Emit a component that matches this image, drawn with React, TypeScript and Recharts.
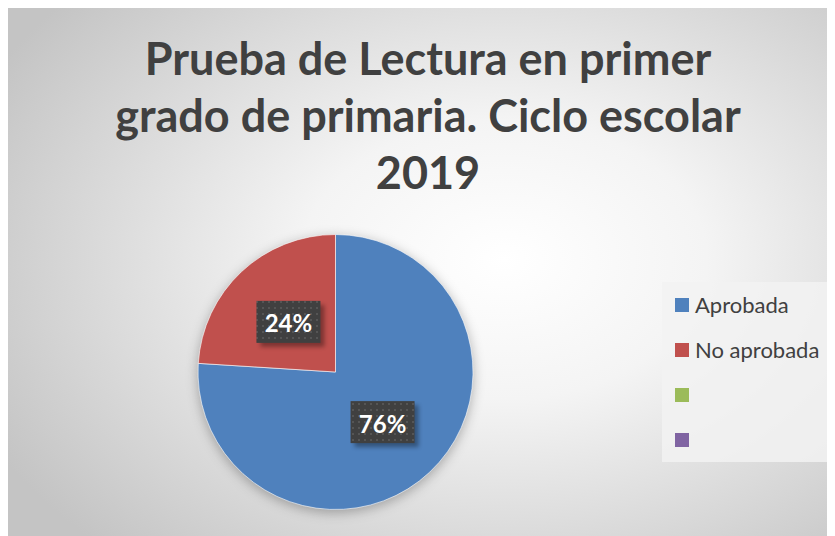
import { PieChart, Pie, Cell, Legend } from "recharts"

const categories = ["Aprobada", "No aprobada", "", ""]
const values = [76, 24, 0, 0]
const colors = ["#4f81bd", "#c0504d", "#9bbb59", "#8064a2"]
const titleLines = [
  "Prueba de Lectura en primer",
  "grado de primaria. Ciclo escolar",
  "2019",
]

const data = categories.map((name, i) => ({ name, value: values[i], color: colors[i] }))
const pieData = data.filter((d) => d.value > 0)

const RAD = Math.PI / 180

function renderLabel(props: any) {
  const { cx, cy, midAngle, outerRadius, percent, index } = props
  const r = outerRadius * 0.5
  const x = cx + r * Math.cos(-midAngle * RAD)
  const y = cy + r * Math.sin(-midAngle * RAD)
  const w = 64
  const h = 42
  return (
    <g key={`lbl-${index}`}>
      <rect x={x - w / 2 + 4} y={y - h / 2 + 4} width={w} height={h} fill="#000" opacity={0.35} filter="url(#lblBlur)" />
      <rect x={x - w / 2} y={y - h / 2} width={w} height={h} fill="url(#dots)" />
      <text
        x={x}
        y={y + 1}
        textAnchor="middle"
        dominantBaseline="central"
        fill="#fff"
        fontFamily="Lato, sans-serif"
        fontWeight={700}
        fontSize={24}
      >
        {`${Math.round(percent * 100)}%`}
      </text>
    </g>
  )
}

function LegendBox() {
  return (
    <div
      style={{
        width: 170,
        height: 180,
        background: "rgba(242,242,242,0.85)",
        boxSizing: "border-box",
        paddingTop: 0,
      }}
    >
      {data.map((d) => (
        <div
          key={d.color}
          style={{ display: "flex", alignItems: "center", height: 45, paddingLeft: 13 }}
        >
          <span style={{ width: 14, height: 14, background: d.color, display: "inline-block" }} />
          <span
            style={{
              marginLeft: 6,
              fontFamily: "Lato, sans-serif",
              fontSize: 22,
              color: "#404040",
              whiteSpace: "nowrap",
            }}
          >
            {d.name}
          </span>
        </div>
      ))}
    </div>
  )
}

export default function App() {
  return (
    <div
      style={{
        position: "relative",
        width: 827,
        height: 531,
        marginTop: -3,
        background:
          "radial-gradient(ellipse 70% 75% at 60% 48%, #ffffff 0%, #f4f4f4 35%, #c4c4c4 100%)",
        overflow: "hidden",
      }}
    >
      <div
        style={{
          position: "absolute",
          left: 0,
          top: 25,
          width: 840,
          textAlign: "center",
          fontFamily: "Lato, sans-serif",
          fontWeight: 700,
          fontSize: 45,
          lineHeight: "57px",
          color: "#404040",
        }}
      >
        {titleLines.map((t) => (
          <div key={t}>{t}</div>
        ))}
      </div>
      <svg width={0} height={0} style={{ position: "absolute" }}>
        <defs>
          <pattern id="dots" width="6" height="6" patternUnits="userSpaceOnUse">
            <rect width="6" height="6" fill="#404040" />
            <rect x="2" y="2" width="2" height="2" fill="#555555" />
          </pattern>
          <filter id="lblBlur" x="-20%" y="-20%" width="140%" height="140%">
            <feGaussianBlur stdDeviation="2" />
          </filter>
          <filter id="pieShadow" x="-20%" y="-20%" width="140%" height="140%">
            <feGaussianBlur stdDeviation="6" />
          </filter>
        </defs>
      </svg>
      <PieChart width={827} height={531} margin={{ top: 0, right: 0, bottom: 0, left: 0 }}>
        <Pie
          data={pieData}
          dataKey="value"
          nameKey="name"
          cx={327.5}
          cy={370}
          outerRadius={138}
          startAngle={90}
          endAngle={-270}
          fill="#000"
          fillOpacity={0.28}
          stroke="none"
          filter="url(#pieShadow)"
          isAnimationActive={false}
          legendType="none"
        />
        <Pie
          data={pieData}
          dataKey="value"
          nameKey="name"
          cx={327.5}
          cy={367}
          outerRadius={137.5}
          startAngle={90}
          endAngle={-270}
          stroke="#ffffff"
          strokeWidth={0.6}
          label={renderLabel}
          labelLine={false}
          isAnimationActive={false}
        >
          {pieData.map((d) => (
            <Cell key={d.name} fill={d.color} />
          ))}
        </Pie>
        <Legend
          content={() => <LegendBox />}
          wrapperStyle={{ position: "absolute", left: 654, top: 277, width: 170 }}
        />
      </PieChart>
    </div>
  )
}
